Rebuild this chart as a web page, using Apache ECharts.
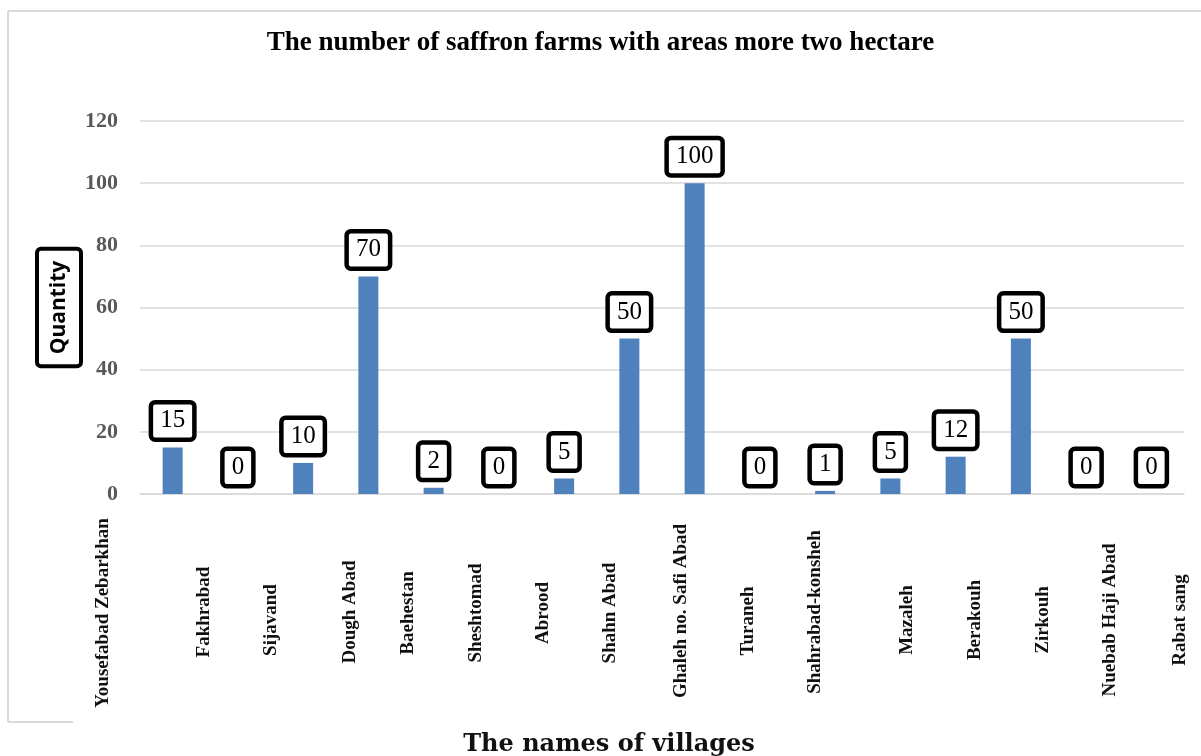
<!DOCTYPE html>
<html>
<head>
<meta charset="utf-8">
<script src="https://cdn.jsdelivr.net/npm/echarts@6/dist/echarts.min.js"></script>
<style>
html,body{margin:0;padding:0;background:#fff;}
#main{width:1201px;height:756px;}
</style>
</head>
<body>
<div id="main"></div>
<script>
// ---- data ----
const titleText = 'The number of saffron farms with areas more two hectare';
const xAxisTitle = 'The names of villages';
const yAxisTitle = 'Quantity';
const categories = [
  'Yousefabad Zebarkhan', 'Fakhrabad', 'Sijavand', 'Dough Abad', 'Baehestan',
  'Sheshtomad', 'Abrood', 'Shahn Abad', 'Ghaleh no. Safi Abad', 'Turaneh',
  'Shahrabad-konsheh', 'Mazaleh', 'Berakouh', 'Zirkouh', 'Nuebab Haji Abad', 'Rabat sang'
];
const farmCounts = [15, 0, 10, 70, 2, 0, 5, 50, 100, 0, 1, 5, 12, 50, 0, 0];
const yMin = 0, yMax = 120, yStep = 20;

// ---- label styling (drift of the pasted village names, px) ----
const labelShiftX = [-70, -34, -32, -18, -26, -23, -21, -19, -14, -12, -8, 17, 19, 22, 24, 29];
const labelMidY = [613, 612, 620, 612, 613, 613, 613, 613, 611, 621, 612, 620, 620, 620, 620, 620];

const GRID = {left: 140, right: 17, top: 121, bottom: 262, outerBoundsMode: 'none'};
const AXIS_Y = 756 - GRID.bottom;
const LABEL_MARGIN = 8;
const LABEL_SIZE = 19;
const LABEL_LH = 20;
const labelFont = 'bold ' + LABEL_SIZE + 'px "Liberation Serif"';

const ctx = document.createElement('canvas').getContext('2d');
ctx.font = labelFont;
const xData = categories.map((c, i) => {
  const w = ctx.measureText(c).width;
  const padR = Math.max(0, labelMidY[i] - AXIS_Y - LABEL_MARGIN - w / 2);
  const dx = labelShiftX[i];
  const off = Math.max(0, Math.abs(dx) - LABEL_LH / 2);
  return {
    value: c,
    textStyle: dx >= 0
      ? {verticalAlign: 'top', padding: [off, padR, 0, 0]}
      : {verticalAlign: 'bottom', padding: [0, padR, off, 0]}
  };
});

const chart = echarts.init(document.getElementById('main'));
chart.setOption({
  animation: false,
  backgroundColor: '#ffffff',
  title: {
    text: titleText,
    left: 'center',
    top: 25,
    textStyle: {fontFamily: 'Liberation Serif', fontWeight: 'bold', fontSize: 27, color: '#000'}
  },
  grid: GRID,
  xAxis: {
    type: 'category',
    data: xData,
    name: xAxisTitle,
    nameLocation: 'middle',
    nameGap: 239,
    nameMoveOverlap: false,
    nameTextStyle: {
      fontFamily: 'DejaVu Serif', fontWeight: 'bold', fontSize: 24, color: '#111',
      padding: [0, 106, 0, 0]
    },
    axisLine: {show: true, lineStyle: {color: '#d9d9d9', width: 1.5}},
    axisTick: {show: false},
    axisLabel: {
      interval: 0,
      rotate: 90,
      margin: LABEL_MARGIN,
      fontFamily: 'Liberation Serif',
      fontWeight: 'bold',
      fontSize: LABEL_SIZE,
      lineHeight: LABEL_LH,
      color: '#111'
    }
  },
  yAxis: {
    type: 'value',
    min: yMin,
    max: yMax,
    interval: yStep,
    name: yAxisTitle,
    nameLocation: 'middle',
    nameRotate: 90,
    nameGap: 61,
    nameMoveOverlap: false,
    nameTextStyle: {
      fontFamily: 'Open Sans', fontWeight: 'bold', fontSize: 21, color: '#000',
      borderColor: '#000', borderWidth: 4, borderRadius: 2,
      backgroundColor: '#fff',
      padding: [8, 10, 8, 10], lineHeight: 24
    },
    axisLine: {show: false},
    axisTick: {show: false},
    axisLabel: {
      margin: 22,
      fontFamily: 'Liberation Serif',
      fontWeight: 'bold',
      fontSize: 22,
      color: '#595959'
    },
    splitLine: {lineStyle: {color: '#d9d9d9', width: 1.5}}
  },
  series: [{
    type: 'bar',
    data: farmCounts,
    barWidth: 20,
    itemStyle: {color: '#4f81bd'},
    label: {
      show: true,
      position: 'top',
      distance: 10,
      fontFamily: 'Liberation Serif',
      fontSize: 25,
      color: '#000',
      backgroundColor: '#fff',
      borderColor: '#000',
      borderWidth: 4.5,
      borderRadius: 2,
      padding: [3, 7, 3, 7],
      lineHeight: 27
    }
  }],
  graphic: [
    {type: 'line', shape: {x1: 8, y1: 11, x2: 1201, y2: 11}, style: {stroke: '#d9d9d9', lineWidth: 2}, silent: true},
    {type: 'line', shape: {x1: 8, y1: 11, x2: 8, y2: 722}, style: {stroke: '#d9d9d9', lineWidth: 2}, silent: true},
    {type: 'line', shape: {x1: 8, y1: 722, x2: 73, y2: 722}, style: {stroke: '#d9d9d9', lineWidth: 2}, silent: true}
  ]
});
</script>
</body>
</html>
